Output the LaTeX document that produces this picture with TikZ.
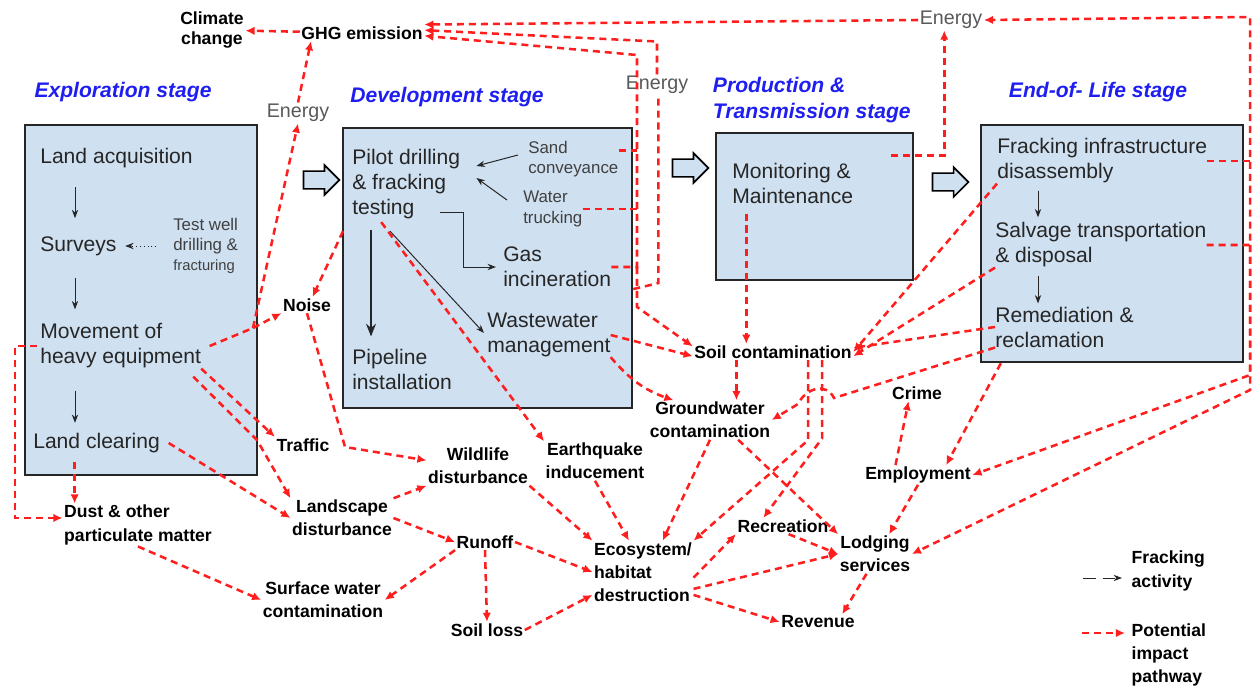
\documentclass[tikz,border=0pt]{standalone}
\usepackage{fontspec}
\setmainfont{Liberation Sans}
\usetikzlibrary{arrows.meta,shapes.arrows,fit}
\definecolor{boxblue}{RGB}{207,224,241}
\definecolor{stageblue}{RGB}{30,30,240}
\definecolor{imppath}{RGB}{255,30,30}
\tikzset{
  stagebox/.style={draw=black!85,line width=1.8pt,fill=boxblue,inner sep=0pt},
  stagename/.style={text=stageblue,align=left,font=\fontsize{15}{18}\selectfont\bfseries\itshape},
  act/.style={anchor=west,inner sep=0pt,align=left,text=black!85,font=\fontsize{15}{17.8}\selectfont},
  actsmall/.style={act,text=black!75,font=\fontsize{12}{14.5}\selectfont},
  impact/.style={inner sep=1pt,align=center,font=\fontsize{12.5}{16.5}\selectfont\bfseries},
  energy/.style={inner sep=1pt,text=black!65,font=\fontsize{14}{16}\selectfont},
  flow/.style={->,>={Stealth[length=6pt,width=4.5pt]},line width=0.7pt,black!85},
  pathway/.style={->,>={Latex[length=6.5pt,width=6pt]},imppath,line width=1.8pt,dash pattern=on 5pt off 3.5pt},
  pathline/.style={pathway,-},
  stagearrow/.style={single arrow,draw=black,line width=1.2pt,fill=boxblue,minimum height=0.9cm,
    inner xsep=0pt,inner ysep=0.2cm,single arrow head extend=0.15cm}
}
\begin{document}
\begin{tikzpicture}[x=0.025cm,y=-0.025cm]
\useasboundingbox (0,0) rectangle (1254,690);
% stage boxes
\node[stagebox,fit={(25,125) (257,475)}] (explore) {};
\node[stagebox,fit={(343,128) (632,408)}] (develop) {};
\node[stagebox,fit={(716,133) (913,280)}] (produce) {};
\node[stagebox,fit={(981,125) (1243,362)}] (endlife) {};
\node[stagename] (t1) at (123,92) {Exploration stage};
\node[stagename] (t2) at (447,97) {Development stage};
\node[stagename,anchor=west] (t3) at (708,100) {Production \&\\Transmission stage};
\node[stagename] (t4) at (1098,92) {End-of- Life stage};
\node[stagearrow] (s12) at (317,180) {};
\node[stagearrow] (s23) at (686,168) {};
\node[stagearrow] (s34) at (946,182) {};
% exploration
\node[act] (landacq) at (40,158) {Land acquisition};
\node[act] (surveys) at (40,246) {Surveys};
\node[actsmall] (testwell) at (173,246) {Test well\\drilling \&\\{\fontsize{10.5}{12}\selectfont fracturing}};
\node[act] (movement) at (40,346) {Movement of\\heavy equipment};
\node[act] (clearing) at (33,443) {Land clearing};
\draw[flow] ([shift={(35,19)}]landacq.south west) -- ([shift={(35,-18)}]surveys.north west);
\draw[flow] ([shift={(35,22)}]surveys.south west) -- ([shift={(35,-14)}]movement.north west);
\draw[flow] ([shift={(35,22)}]movement.south west) -- ([shift={(42,-10)}]clearing.north west);
\draw[flow,dotted] ([xshift=-12pt]testwell.west) -- ([xshift=6pt]surveys.east);
% development
\node[act] (pilot) at (352,184) {Pilot drilling\\\& fracking\\testing};
\node[actsmall] (sand) at (528,159) {Sand\\conveyance};
\node[actsmall] (water) at (523,209) {Water\\trucking};
\node[act] (gas) at (503,267) {Gas\\incineration};
\node[act] (pipeline) at (352,369) {Pipeline\\installation};
\node[act] (waste) at (487,335) {Wastewater\\management};
\draw[flow] ([shift={(-10,-4)}]sand.west) -- ([shift={(16,-18)}]pilot.east);
\draw[flow] ([shift={(-16,-9)}]water.west) -- ([shift={(16,-6)}]pilot.east);
\draw[flow] ([shift={(-20,28)}]pilot.east) -- ++(23,0) |- ([xshift=-5pt]gas.west);
\draw[flow,line width=2pt,>={Stealth[length=9pt,width=7pt]}] ([shift={(19,11)}]pilot.south west) -- ([shift={(19,-12)}]pipeline.north west);
\draw[flow] ([shift={(38,12)}]pilot.south west) -- ([shift={(-3,-2)}]waste.west);
% production
\node[act] (monitor) at (732,183) {Monitoring \&\\Maintenance};
% end of life
\node[act] (disasm) at (997,161) {Fracking infrastructure\\disassembly};
\node[act] (salvage) at (995,245) {Salvage transportation\\\& disposal};
\node[act] (remed) at (995,327) {Remediation \&\\reclamation};
\draw[flow] ([shift={(41,7)}]disasm.south west) -- ([shift={(43,-5)}]salvage.north west);
\draw[flow] ([shift={(43,8)}]salvage.south west) -- ([shift={(43,-3)}]remed.north west);
% impacts
\node[impact,font=\fontsize{12.5}{14}\selectfont\bfseries] (climate) at (212,30) {Climate\\change};
\node[impact] (ghg) at (362,33) {GHG emission};
\node[energy] (energyA) at (298,113) {Energy};
\node[energy] (energyB) at (657,85) {Energy};
\node[energy] (energyC) at (951,20) {Energy};
\node[impact] (noise) at (307,305) {Noise};
\node[impact] (traffic) at (303,445) {Traffic};
\node[impact] (landscape) at (342,518) {Landscape\\disturbance};
\node[impact] (wildlife) at (478,466) {Wildlife\\disturbance};
\node[impact] (quake) at (595,461) {Earthquake\\inducement};
\node[impact] (ground) at (710,420) {Groundwater\\contamination};
\node[impact] (soil) at (773,352) {Soil contamination};
\node[impact] (crime) at (917,393) {Crime};
\node[impact] (employ) at (918,475) {Employment};
\node[impact] (lodging) at (875,554) {Lodging\\services};
\node[impact] (recreation) at (783,526) {Recreation};
\node[impact] (revenue) at (818,622) {Revenue};
\node[impact,align=left] (eco) at (643,572) {Ecosystem/\\habitat\\destruction};
\node[impact] (runoff) at (485,542) {Runoff};
\node[impact] (soilloss) at (487,630) {Soil loss};
\node[impact] (surface) at (323,600) {Surface water\\contamination};
\node[impact,align=left] (dust) at (138,525) {Dust \& other\\particulate matter};
% legend
\node[impact,align=left,anchor=west] (legact) at (1130,571) {Fracking\\activity};
\node[impact,align=left,anchor=west] (legimp) at (1130,655) {Potential\\impact\\pathway};
\draw[flow,dash pattern=on 9pt off 5pt] ([shift={(-47,7)}]legact.west) -- ([shift={(-8,7)}]legact.west);
\draw[pathway] ([shift={(-48,-22)}]legimp.west) -- ([shift={(-5,-22)}]legimp.west);
% bends
\coordinate (mvbend) at (253,328);
\coordinate (mvbend2) at (257,440);
\coordinate (nzbend) at (345,447);
\coordinate (devtop) at (637,55);
\coordinate (rtop) at (1250,17);
\coordinate (hopA) at (834,398);
\coordinate (hopB) at (798,404);
% impact pathways
\draw[pathway] (ghg) -- (climate);
\draw[pathway] (energyA.north) -- ([xshift=8pt]ghg.south west);
\draw[pathline] ([xshift=6pt]movement.east) -- (mvbend);
\draw[pathway] (mvbend) -- (noise.south west);
\draw[pathway] (mvbend) -- (energyA.south);
\draw[pathway] ([shift={(-9,12)}]pilot.south west) -- ([xshift=4pt]noise.north);
\draw[pathway] (noise.south) -- (nzbend) -- ([yshift=4pt]wildlife.west);
\draw[pathway] (movement.south east) -- (traffic.north west);
\draw[pathway] ([shift={(-8,8)}]movement.south east) -- (mvbend2) -- (landscape.north west);
\draw[pathway] ([xshift=6pt]clearing.east) -- (landscape.west);
\path ([shift={(-22,9)}]clearing.south) coordinate (clx);
\draw[pathway] (clx) -- (clx |- dust.north);
\draw[pathway] ([xshift=-2pt]movement.west) -- ++(-22,0) |- ([yshift=5pt]dust.west);
\draw[pathway] (dust.south) -- (surface.west);
\draw[pathway] (landscape.north east) -- (wildlife.south west);
\draw[pathway] (landscape.east) -- (runoff.west);
\draw[pathway] (runoff.south west) -- (surface.east);
\draw[pathway] (runoff.south) -- (soilloss.north);
\draw[pathway] (runoff.east) -- (eco.west);
\draw[pathway] (soilloss.east) -- ([yshift=6pt]eco.south west);
\draw[pathway] (wildlife.south east) -- (eco.north west);
\draw[pathway] (quake.south) -- ([xshift=-10pt]eco.north);
\draw[pathway] ([shift={(-25,3)}]pilot.south) -- (quake.north west);
\draw[pathway] (ground.south) -- ([xshift=14pt]eco.north);
\draw[pathway] ([xshift=20pt]ground.south) -- (lodging.north west);
\path ([xshift=-26pt]soil.south) coordinate (sgx);
\draw[pathway] (sgx) -- (sgx |- ground.north);
\path ([xshift=25pt]soil.south) coordinate (sex);
\path ([xshift=35pt]soil.south) coordinate (srx);
\draw[pathway] (sex) -- ++(0,80) -- (eco.north east);
\draw[pathway] (srx) -- ++(0,78) -- ([xshift=-14pt]recreation.north);
\draw[pathway] ([yshift=-4pt]eco.east) -- (recreation.south west);
\draw[pathway] ([yshift=-12pt]eco.east) -- (lodging.west);
\draw[pathway] ([yshift=6pt]eco.south east) -- (revenue.west);
\draw[pathway] ([xshift=4pt]recreation.south) -- (lodging.west);
\draw[pathway] ([xshift=-6pt]lodging.south) -- ([xshift=-10pt]revenue.north east);
\draw[pathway] ([xshift=-16pt]employ.north) -- ([xshift=-6pt]crime.south);
\draw[pathway] (employ.south) -- ([xshift=10pt]lodging.north);
\draw[pathway] ([xshift=15pt]endlife.south west) -- ([xshift=20pt]employ.north);
\draw[pathway] (disasm.south west) -- (soil.east);
\draw[pathway] (salvage.south west) -- ([yshift=-3pt]soil.east);
\draw[pathway] (remed.west) -- ([yshift=3pt]soil.east);
\draw[pathway] (remed.south west) -- (hopA) .. controls +(-8,-16) and +(8,-16) .. (hopB) -- (ground.east);
\path ([xshift=-19pt]soil.north) coordinate (smx);
\path (smx |- monitor.south) ++(0,10) coordinate (mtop);
\draw[pathway] (mtop) -- (smx);
\path ([shift={(-23,24)}]produce.north east) ++(53,0) coordinate (mce);
\draw[pathway] ([shift={(-23,24)}]produce.north east) -- (mce) -- (mce |- energyC.south);
\draw[pathline] ([yshift=6pt]sand.east) -- ([yshift=6pt]sand.east -| devtop);
\draw[pathline] (water.east) -- (water.east -| devtop);
\draw[pathway] (gas.east) -- (gas.east -| devtop) -- (devtop) -- ([yshift=-2pt]ghg.east);
\draw[pathway] (gas.east -| devtop) -- ++(0,40) -- ([yshift=4pt]soil.west);
\draw[pathway] (waste.east) -- ([yshift=-3pt]soil.west);
\draw[pathway] (waste.south east) to[bend right=15] ([xshift=-26pt]ground.north);
\path ([yshift=-15pt]develop.east) ++(25,-6) coordinate (dex);
\draw[pathline] ([yshift=-15pt]develop.east) -- (dex) -- (dex |- energyB.south);
\draw[pathway] (energyB.north) -- ++(0,-33) -- ([yshift=2pt]ghg.east);
\draw[pathway] (energyC.west) -- ([yshift=6pt]ghg.east);
\draw[pathway] (salvage.east) -- (salvage.east -| rtop) -- (rtop) -- (energyC.east);
\draw[pathline] (disasm.east) -- (disasm.east -| rtop);
\path (salvage.east -| rtop) coordinate (rsv);
\draw[pathway] (rsv) -- ++(0,130) -- (employ.east);
\draw[pathway] (rsv) -- ++(0,145) -- (lodging.east);
\end{tikzpicture}
\end{document}
